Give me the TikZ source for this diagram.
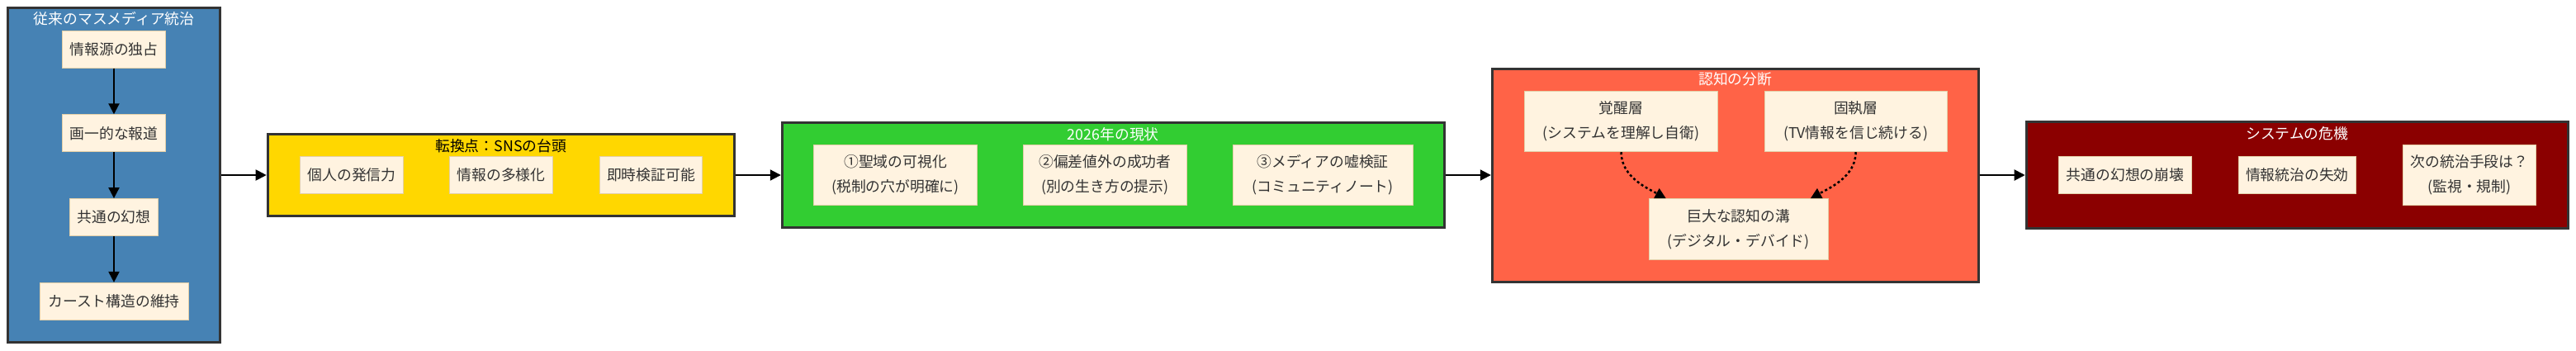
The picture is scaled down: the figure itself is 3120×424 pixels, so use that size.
\documentclass[tikz,border=0pt]{standalone}
\usepackage{fontspec}
\setmainfont{Noto Sans CJK JP}
\usepackage{tikz}
\usepackage{xcolor}
\usetikzlibrary{arrows.meta,positioning,shapes}
\definecolor{ruleblue}{HTML}{4682B4}
\definecolor{snsgold}{HTML}{FFD700}
\definecolor{nowgreen}{HTML}{32CD32}
\definecolor{splitred}{HTML}{FF6347}
\definecolor{crisisred}{HTML}{8B0000}
\definecolor{itemfill}{HTML}{FFF3E0}
\definecolor{itemline}{HTML}{E3CFA8}
\definecolor{edgegray}{HTML}{333333}
\tikzset{%
	group/.style    = {draw=edgegray, line width=3pt, rectangle, inner sep=0pt}, % Subgraph
	title/.style    = {text=white, inner sep=0pt}, % Subgraph title
	item/.style     = {draw=itemline, fill=itemfill, text=edgegray, rectangle, line width=1pt, align=center, minimum height=45pt, inner sep=0pt},
	twoline/.style  = {item, minimum height=73pt},
	arrow/.style    = {line width=2pt, -{Triangle[length=13pt,width=13pt]}},
	dotarrow/.style = {arrow, line width=2.5pt, dash pattern=on 3pt off 3pt},
}

\begin{document}
\begin{tikzpicture}[x=1pt, y=-1pt, node distance=101.8pt, font=\fontsize{17.8}{30}\selectfont]
	\fill[white] (0,0) rectangle (3120,424);
	\useasboundingbox (0,0) rectangle (3120,424);
	% subgraphs
	\node[group, fill=ruleblue, minimum width=257pt, minimum height=405pt] (rule) at (138.2,212) {};
	\node[group, fill=snsgold, minimum width=565pt, minimum height=99pt] (sns) at (606.7,212) {};
	\node[group, fill=nowgreen, minimum width=802pt, minimum height=127pt] (now) at (1348.3,212) {};
	\node[group, fill=splitred, minimum width=589pt, minimum height=258pt] (split) at (2101.8,212) {};
	\node[group, fill=crisisred, minimum width=656pt, minimum height=129pt] (crisis) at (2782.2,212) {};
	\node[title] (rulet) at ([yshift=-15pt]rule.north) {従来のマスメディア統治};
	\node[title, text=black] (snst) at ([yshift=-16pt]sns.north) {転換点：SNSの台頭};
	\node[title] (nowt) at ([yshift=-15.5pt]now.north) {2026年の現状};
	\node[title] (splitt) at ([yshift=-14.5pt]split.north) {認知の分断};
	\node[title] (crisist) at ([yshift=-16pt]crisis.north) {システムの危機};

	\node[item, minimum width=125pt] (src) at (138,59.5) {情報源の独占};
	\node[item, minimum width=125pt, below of=src] (uniform) {画一的な報道};
	\node[item, minimum width=107pt, below of=uniform] (illusion) {共通の幻想};
	\node[item, minimum width=180pt, below of=illusion] (caste) {カースト構造の維持};

	\node[item, minimum width=125pt] (voice) at (426,212) {個人の発信力};
	\node[item, minimum width=125pt, node distance=181pt, right of=voice] (diverse) {情報の多様化};
	\node[item, minimum width=124pt, node distance=181.5pt, right of=diverse] (check) {即時検証可能};

	\node[twoline, minimum width=198pt] (sanct) at (1084.5,212) {①聖域の可視化\\(税制の穴が明確に)};
	\node[twoline, minimum width=198pt] (outlier) at (1338.3,212) {②偏差値外の成功者\\(別の生き方の提示)};
	\node[twoline, minimum width=218pt] (factchk) at (1602.2,212) {③メディアの嘘検証\\(コミュニティノート)};

	\node[twoline, minimum width=234pt] (awake) at (1963.5,147.2) {覚醒層\\(システムを理解し自衛)};
	\node[twoline, minimum width=221pt] (stuck) at (2247.7,147.2) {固執層\\(TV情報を信じ続ける)};
	\node[twoline, minimum width=217pt, minimum height=74pt] (gap) at (2105.8,277.7) {巨大な認知の溝\\(デジタル・デバイド)};

	\node[item, minimum width=161pt] (collapse) at (2574,212) {共通の幻想の崩壊};
	\node[item, minimum width=142pt] (lapse) at (2782.3,212) {情報統治の失効};
	\node[twoline, minimum width=161pt] (next) at (2991,212) {次の統治手段は？\\(監視・規制)};

	\draw[arrow] (src) -- (uniform);
	\draw[arrow] (uniform) -- (illusion);
	\draw[arrow] (illusion) -- (caste);
	\draw[arrow] (rule) -- (sns);
	\draw[arrow] (sns) -- (now);
	\draw[arrow] (now) -- (split);
	\draw[arrow] (split) -- (crisis);
	\draw[dotarrow] (awake.south) .. controls +(0,30) and +(-22,-12) .. ([xshift=21pt]gap.north west);
	\draw[dotarrow] (stuck.south) .. controls +(0,30) and +(22,-12) .. ([xshift=-22pt]gap.north east);
\end{tikzpicture}
\end{document}
